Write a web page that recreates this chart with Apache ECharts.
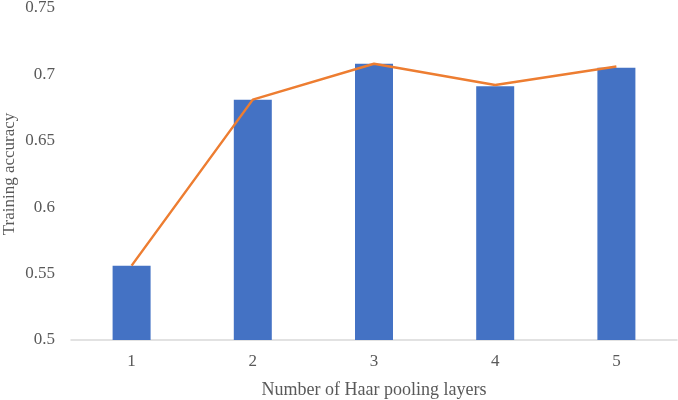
<!DOCTYPE html>
<html>
<head>
<meta charset="utf-8">
<script src="https://cdn.jsdelivr.net/npm/echarts@6/dist/echarts.min.js"></script>
<style>html,body{margin:0;padding:0;background:#fff}#c{width:678px;height:400px}</style>
</head>
<body>
<div id="c"></div>
<script>
var categories = ['1', '2', '3', '4', '5'];
var barValues = [0.556, 0.681, 0.708, 0.691, 0.705];
var lineValues = [0.556, 0.681, 0.708, 0.692, 0.706];
var yTicks = [0.5, 0.55, 0.6, 0.65, 0.7, 0.75];

var chart = echarts.init(document.getElementById('c'));
var font = 'Liberation Serif';
chart.setOption({
  animation: false,
  grid: {left: 71, right: 1, top: 8, bottom: 60, containLabel: false, outerBoundsMode: 'none'},
  xAxis: {
    type: 'category',
    data: categories,
    name: 'Number of Haar pooling layers',
    nameLocation: 'middle',
    nameGap: 41,
    nameMoveOverlap: false,
    nameTextStyle: {fontFamily: font, fontSize: 18, color: '#595959'},
    axisLine: {lineStyle: {color: '#d9d9d9', width: 1.5}},
    axisTick: {show: false},
    axisLabel: {fontFamily: font, fontSize: 17, color: '#595959', margin: 13}
  },
  yAxis: {
    type: 'value',
    min: 0.5, max: 0.75, interval: 0.05,
    name: 'Training accuracy',
    nameLocation: 'middle',
    nameGap: 53,
    nameMoveOverlap: false,
    nameTextStyle: {fontFamily: font, fontSize: 17, color: '#595959'},
    axisLine: {show: false},
    axisTick: {show: false},
    splitLine: {show: false},
    axisLabel: {
      fontFamily: font, fontSize: 17, color: '#595959', margin: 16,
      formatter: function (v) {
        for (var i = 0; i < yTicks.length; i++) {
          if (Math.abs(yTicks[i] - v) < 1e-9) return String(yTicks[i]);
        }
        return '';
      }
    }
  },
  series: [
    {
      type: 'bar',
      data: barValues,
      barWidth: 38,
      itemStyle: {color: '#4472C4'}
    },
    {
      type: 'line',
      data: lineValues,
      symbol: 'none',
      lineStyle: {color: '#ED7D31', width: 2.5}
    }
  ]
});
</script>
</body>
</html>
